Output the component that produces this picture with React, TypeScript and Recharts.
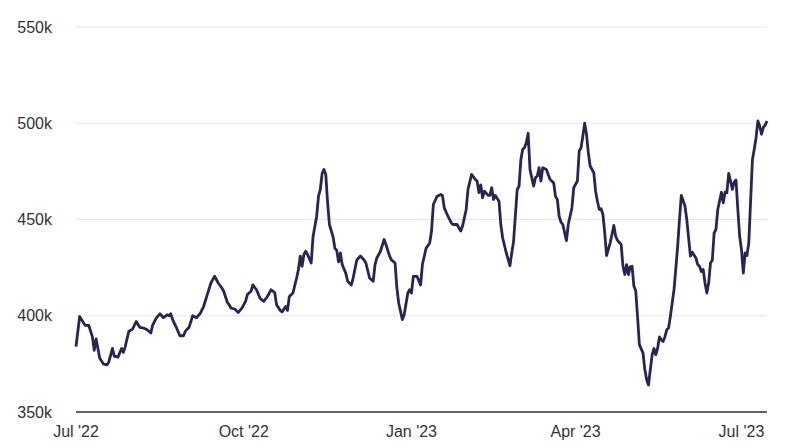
import React from 'react';
import { LineChart, Line, XAxis, YAxis, CartesianGrid } from 'recharts';

// Days since 1 Jul 2022.
const dayOffsets = [
  0, 2, 5, 7, 9, 10, 11, 13, 15, 17, 18, 20, 21, 23, 25, 26, 27, 29, 31, 33,
  35, 37, 39, 41, 42, 44, 46, 48, 50, 51, 52, 53, 55, 57, 59, 60, 62, 64, 66, 68,
  70, 72, 74, 75, 76, 78, 80, 81, 83, 84, 85, 87, 89, 91, 93, 94, 96, 97, 99, 101,
  103, 105, 107, 109, 110, 112, 113, 115, 116, 117, 119, 121, 122, 123, 124, 125, 126, 127, 129, 130,
  132, 133, 134, 135, 136, 137, 138, 139, 141, 142, 143, 144, 145, 146, 148, 149, 151, 152, 154, 156,
  158, 159, 161, 163, 164, 165, 167, 169, 170, 172, 173, 175, 176, 177, 179, 180, 182, 183, 184, 185,
  187, 189, 190, 192, 194, 195, 196, 198, 200, 201, 202, 204, 206, 207, 209, 211, 212, 214, 215, 217,
  219, 220, 221, 222, 223, 224, 226, 227, 228, 229, 230, 232, 233, 234, 236, 238, 239, 240, 242, 243,
  244, 245, 246, 247, 248, 249, 251, 252, 253, 254, 255, 256, 258, 260, 261, 262, 263, 264, 265, 266,
  267, 269, 270, 272, 273, 275, 276, 277, 278, 279, 280, 281, 282, 284, 285, 286, 287, 288, 289, 290,
  291, 293, 295, 296, 297, 299, 300, 301, 302, 303, 304, 305, 306, 307, 308, 309, 311, 312, 313, 314,
  315, 316, 317, 318, 319, 320, 321, 322, 323, 324, 325, 326, 327, 328, 330, 331, 332, 334, 335, 336,
  337, 338, 340, 341, 342, 343, 344, 345, 346, 347, 348, 349, 350, 351, 352, 354, 355, 356, 357, 358,
  359, 360, 361, 362, 363, 364, 365, 366, 367, 368, 369, 371, 372, 373, 374, 375, 376, 377, 378, 379,
];

// Values in thousands, one per day offset above.
const valuesK = [
  384, 399.6, 395, 395, 389, 382, 388, 378, 375, 374.5, 376, 383, 379, 378.5, 383, 381, 384, 392, 393, 397,
  394, 393.6, 392.7, 391, 395, 398.8, 401, 399, 400.5, 400, 401, 398, 394, 389.6, 389.6, 392, 394, 400, 399, 401,
  404.8, 411, 417, 418.8, 420.5, 417, 414.4, 412.7, 407, 405.7, 404, 403.5, 401.7, 404, 407.5, 411, 412.7, 416, 413.5, 409,
  407.5, 410, 413.5, 412, 405.7, 402.8, 402, 404.8, 402.8, 410, 411.8, 419.6, 424, 431, 425.7, 431.8, 433.5, 431.8, 427.4, 441,
  451.7, 462, 465.6, 474, 476, 473.4, 458.7, 447.4, 441, 435, 434, 428, 432.6, 426.6, 422, 417.9, 416, 419.6, 429, 431,
  429, 427.4, 419.6, 417.9, 426.6, 430, 433.5, 439.6, 437, 431, 429, 427.4, 414.4, 406.6, 398, 400.5, 411.8, 413.5, 411.8, 420.5,
  420.5, 416, 426.6, 435, 437.8, 444, 457.8, 462, 463, 462.5, 456, 451.7, 448, 447.4, 447.4, 444, 446.5, 455.2, 465.6, 473.4,
  470.8, 470, 464, 468, 461.3, 464.7, 462.5, 462.5, 466.5, 460.4, 462.5, 459.5, 447.4, 440.5, 432.6, 426, 432.6, 438.7, 465.6, 467.3,
  481, 486.5, 487.3, 490, 494.8, 476, 467.3, 471.7, 472.6, 476.9, 470, 476.9, 476, 470.8, 470, 469, 462, 460.4, 451.7, 448.6,
  447.4, 439, 447.4, 456, 466.5, 470, 485.6, 487.3, 493.4, 500, 494.3, 484.7, 477.8, 474.3, 464.7, 459.5, 455.2, 455.6, 452.6, 443,
  431.3, 437.9, 446.9, 441.3, 439.2, 437, 425.7, 421.4, 426.6, 421.4, 425.4, 425.7, 415.3, 413, 399.6, 385, 380.6, 371.9, 366.7, 364,
  372, 379.7, 383, 379.7, 383, 389, 387.5, 386.6, 389, 392.7, 393.6, 399.6, 406.6, 413.5, 436, 450, 462.5, 457, 450, 440.5,
  431, 433, 430, 426.6, 425.7, 423, 424, 417, 411.8, 417, 427.4, 428.8, 443, 444.8, 455.2, 464.2, 458.7, 464.2, 463.9, 474,
  470, 465.6, 469.4, 470.5, 455.2, 441.3, 434.4, 422.2, 432.6, 431.3, 437.8, 481, 486.5, 492.5, 501.2, 498.6, 494.3, 497.8, 499, 501.2,
];

const xTicks = [0, 92, 184, 274, 365];
const xTickLabels = ["Jul '22", "Oct '22", "Jan '23", "Apr '23", "Jul '23"];
const yTicks = [350, 400, 450, 500, 550];

const data = dayOffsets.map((day, i) => ({ day, value: valuesK[i] }));

const font = "'Liberation Sans', Arial, sans-serif";
const textColor = '#333333';

export default function App() {
  return (
    <div style={{ width: 785, height: 448 }}>
      <style>{'body{margin:0}'}</style>
      <LineChart
        width={785}
        height={448}
        data={data}
        margin={{ top: 27, right: 18, bottom: 0, left: 0 }}
      >
        <CartesianGrid vertical={false} stroke="#e6e6e6" strokeWidth={1} />
        <XAxis
          dataKey="day"
          type="number"
          domain={[0, 379]}
          ticks={xTicks}
          tickFormatter={(v: number) => xTickLabels[xTicks.indexOf(v)] ?? ''}
          height={36}
          axisLine={{ stroke: '#333333', strokeWidth: 1.5 }}
          tickLine={false}
          tickSize={0}
          tickMargin={14}
          interval={0}
          tick={{ fill: textColor, fontSize: 16, fontFamily: font }}
        />
        <YAxis
          type="number"
          domain={[350, 550]}
          ticks={yTicks}
          tickFormatter={(v: number) => `${v}k`}
          width={76}
          axisLine={false}
          tickLine={false}
          tickSize={0}
          tickMargin={24}
          interval={0}
          tick={{ fill: textColor, fontSize: 16, fontFamily: font }}
        />
        <Line
          type="linear"
          dataKey="value"
          stroke="#2a2358"
          strokeWidth={2.8}
          strokeLinejoin="round"
          dot={false}
          isAnimationActive={false}
        />
      </LineChart>
    </div>
  );
}
